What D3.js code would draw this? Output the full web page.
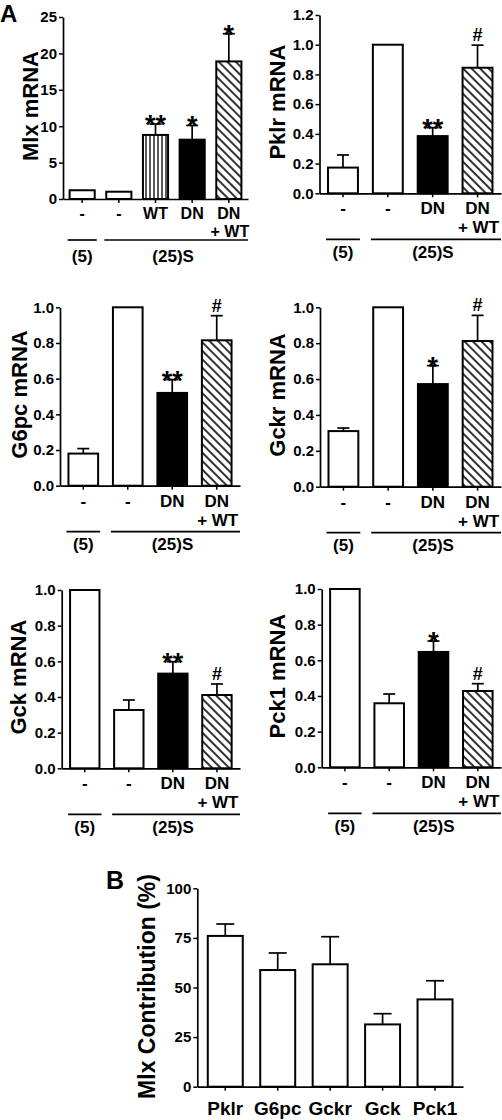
<!DOCTYPE html>
<html><head><meta charset="utf-8">
<script src="https://cdn.jsdelivr.net/npm/d3@7"></script>
<style>
body{margin:0;background:#fff}
text{font-family:"Liberation Sans",Arial,Helvetica,sans-serif;font-weight:bold;fill:#000}
</style>
</head><body>
<svg id="chart" width="502" height="1120"></svg>
<script>
// ---------- data ----------
const groupLabels = ["(5)", "(25)S"];
const mlxCategories = ["-", "-", "WT", "DN", "DN + WT"];
const geneCategories = ["-", "-", "DN", "DN + WT"];

const mlxValues = [1.2, 1.0, 8.8, 8.15, 18.9];
const mlxSem    = [0, 0, 1.5, 1.95, 3.8];
const mlxMarks  = ["", "", "**", "*", "*"];

const pklrValues = [0.173, 1.0, 0.385, 0.845];
const pklrSem    = [0.085, 0, 0.057, 0.152];
const pklrMarks  = ["", "", "**", "#"];

const g6pcValues = [0.18, 1.0, 0.52, 0.815];
const g6pcSem    = [0.028, 0, 0.075, 0.138];
const g6pcMarks  = ["", "", "**", "#"];

const gckrValues = [0.31, 1.0, 0.572, 0.812];
const gckrSem    = [0.017, 0, 0.103, 0.143];
const gckrMarks  = ["", "", "*", "#"];

const gckValues = [1.0, 0.327, 0.531, 0.411];
const gckSem    = [0, 0.056, 0.067, 0.062];
const gckMarks  = ["", "", "**", "#"];

const pck1Values = [1.0, 0.359, 0.647, 0.428];
const pck1Sem    = [0, 0.052, 0.061, 0.041];
const pck1Marks  = ["", "", "*", "#"];

const contribGenes  = ["Pklr", "G6pc", "Gckr", "Gck", "Pck1"];
const contribValues = [76, 58.8, 61.7, 31.4, 44];
const contribSem    = [6, 8.6, 13.9, 5.4, 9.4];

const mlxTicks     = [0, 5, 10, 15, 20, 25];
const pklrTicks    = [0, 0.2, 0.4, 0.6, 0.8, 1.0, 1.2];
const unitTicks    = [0, 0.2, 0.4, 0.6, 0.8, 1.0];
const contribTicks = [0, 25, 50, 75, 100];

// ---------- styles ----------
const svg = d3.select("#chart");
const defs = svg.append("defs");
const vs = defs.append("pattern").attr("id", "vstripe").attr("patternUnits", "userSpaceOnUse")
  .attr("width", 4).attr("height", 4);
vs.append("rect").attr("width", 4).attr("height", 4).attr("fill", "#fff");
vs.append("line").attr("x1", 2).attr("x2", 2).attr("y1", 0).attr("y2", 4).attr("stroke", "#000").attr("stroke-width", 1.3);
const hp = defs.append("pattern").attr("id", "hatch").attr("patternUnits", "userSpaceOnUse")
  .attr("width", 6).attr("height", 6).attr("patternTransform", "rotate(-45)");
hp.append("rect").attr("width", 6).attr("height", 6).attr("fill", "#fff");
hp.append("line").attr("x1", 3).attr("x2", 3).attr("y1", 0).attr("y2", 6).attr("stroke", "#000").attr("stroke-width", 1.6);

const fillFor = {"-": "#fff", "WT": "url(#vstripe)", "DN": "#000", "DN + WT": "url(#hatch)"};

function styleAxis(g, fs) {
  g.selectAll("path.domain").attr("stroke", "#000").attr("stroke-width", 1.7);
  g.selectAll(".tick line").attr("stroke", "#000").attr("stroke-width", 1.5);
  g.selectAll(".tick text").attr("font-size", fs).attr("font-family", "Liberation Sans, Arial, sans-serif")
    .attr("font-weight", "bold").attr("fill", "#000");
}

function drawBars(g, x, y, values, sem, marks, fills, capW) {
  const bw = x.bandwidth();
  values.forEach((v, i) => {
    if (!sem[i]) return;
    const cx = x(i) + bw / 2;
    g.append("line").attr("x1", cx).attr("x2", cx).attr("y1", y(v)).attr("y2", y(v + sem[i]))
      .attr("stroke", "#000").attr("stroke-width", 1.7);
    g.append("line").attr("x1", cx - capW / 2).attr("x2", cx + capW / 2)
      .attr("y1", y(v + sem[i])).attr("y2", y(v + sem[i]))
      .attr("stroke", "#000").attr("stroke-width", 1.7);
  });
  g.selectAll("rect.bar").data(values).join("rect").attr("class", "bar")
    .attr("x", (d, i) => x(i)).attr("width", bw)
    .attr("y", d => y(d)).attr("height", d => y(0) - y(d))
    .attr("fill", (d, i) => fills[i]).attr("stroke", "#000").attr("stroke-width", 2);
  if (marks) {
    values.forEach((v, i) => {
      if (!marks[i]) return;
      const top = y(v + (sem[i] || 0));
      const isStar = marks[i].indexOf("*") >= 0;
      g.append("text").attr("x", x(i) + bw / 2).attr("y", isStar ? top + 10 : top - 4)
        .attr("text-anchor", "middle").attr("font-size", isStar ? 27 : 18).text(marks[i]);
    });
  }
}

function mrnaPanel(p) {
  const g = svg.append("g");
  const n = p.cats.length;
  const x = d3.scaleBand().domain(d3.range(n)).range([p.x0, p.x1])
    .paddingInner(p.pi).paddingOuter(p.po).align(0.5);
  const y = d3.scaleLinear().domain([0, p.max]).range([p.yBot, p.yTop]);
  const ya = g.append("g").attr("transform", `translate(${p.x0},0)`)
    .call(d3.axisLeft(y).tickValues(p.ticks).tickSize(4).tickPadding(2).tickSizeOuter(0)
      .tickFormat(p.fmt));
  styleAxis(ya, 15);
  drawBars(g, x, y, p.values, p.sem, p.marks, p.cats.map(c => fillFor[c]), 12);
  const xa = g.append("g").attr("transform", `translate(0,${p.yBot})`)
    .call(d3.axisBottom(x).tickSize(4).tickSizeOuter(0).tickFormat(""));
  styleAxis(xa, 15);
  p.cats.forEach((c, i) => {
    const cx = x(i) + x.bandwidth() / 2;
    const parts = c.split(" + ");
    g.append("text").attr("x", cx).attr("y", p.yBot + p.off[0]).attr("text-anchor", "middle")
      .attr("font-size", p.fs).text(parts[0]);
    if (parts.length > 1)
      g.append("text").attr("x", cx + 1).attr("y", p.yBot + p.off[1]).attr("text-anchor", "middle")
        .attr("font-size", p.fs).text("+ " + parts[1]);
  });
  const groups = [[0, 0], [1, n - 1]];
  groups.forEach((gr, k) => {
    const xs = x(gr[0]) - 2;
    const xe = k === groups.length - 1 ? p.x1 : x(gr[1]) + x.bandwidth() + 2;
    g.append("line").attr("x1", xs).attr("x2", xe).attr("y1", p.yBot + p.off[2]).attr("y2", p.yBot + p.off[2])
      .attr("stroke", "#000").attr("stroke-width", 1.7);
    g.append("text").attr("x", (xs + xe) / 2 - (k ? 3 : 0)).attr("y", p.yBot + p.off[3])
      .attr("text-anchor", "middle").attr("font-size", 17).text(groupLabels[k]);
  });
  g.append("text").attr("transform", `translate(${p.labX},${(p.yTop + p.yBot) / 2 - 2}) rotate(-90)`)
    .attr("text-anchor", "middle").attr("font-size", 22).text(p.label);
}

const f0 = d3.format("d"), f1 = d3.format(".1f");
const offA = [19.5, 38, 41, 62.5];
const offB = [21, 40, 46, 64.5];

mrnaPanel({label: "Mlx mRNA", cats: mlxCategories, values: mlxValues, sem: mlxSem, marks: mlxMarks, fs: 16,
  x0: 63, x1: 248, yTop: 17, yBot: 199, max: 25, ticks: mlxTicks, fmt: f0, pi: 0.315, po: 0.18, labX: 38, off: offA});
mrnaPanel({label: "Pklr mRNA", cats: geneCategories, values: pklrValues, sem: pklrSem, marks: pklrMarks, fs: 17,
  x0: 319.5, x1: 501, yTop: 15, yBot: 193.3, max: 1.2, ticks: pklrTicks, fmt: f1, pi: 0.333, po: 0.19, labX: 285, off: offB});
mrnaPanel({label: "G6pc mRNA", cats: geneCategories, values: g6pcValues, sem: g6pcSem, marks: g6pcMarks, fs: 17,
  x0: 60, x1: 240, yTop: 307.3, yBot: 485.7, max: 1, ticks: unitTicks, fmt: f1, pi: 0.333, po: 0.19, labX: 27, off: offB});
mrnaPanel({label: "Gckr mRNA", cats: geneCategories, values: gckrValues, sem: gckrSem, marks: gckrMarks, fs: 17,
  x0: 320, x1: 501, yTop: 307.3, yBot: 486.7, max: 1, ticks: unitTicks, fmt: f1, pi: 0.333, po: 0.19, labX: 285, off: offB});
mrnaPanel({label: "Gck mRNA", cats: geneCategories, values: gckValues, sem: gckSem, marks: gckMarks, fs: 17,
  x0: 61.7, x1: 240, yTop: 590, yBot: 768.3, max: 1, ticks: unitTicks, fmt: f1, pi: 0.333, po: 0.19, labX: 26, off: offB});
mrnaPanel({label: "Pck1 mRNA", cats: geneCategories, values: pck1Values, sem: pck1Sem, marks: pck1Marks, fs: 17,
  x0: 321.7, x1: 501, yTop: 589, yBot: 767.3, max: 1, ticks: unitTicks, fmt: f1, pi: 0.333, po: 0.19, labX: 285, off: offB});

// ---------- panel B ----------
(function () {
  const g = svg.append("g");
  const x0 = 197.3, x1 = 463, yTop = 888.3, yBot = 1086.7;
  const x = d3.scaleBand().domain(contribGenes).range([x0, x1]).paddingInner(0.333).paddingOuter(0.2);
  const y = d3.scaleLinear().domain([0, 100]).range([yBot, yTop]);
  const ya = g.append("g").attr("transform", `translate(${x0},0)`)
    .call(d3.axisLeft(y).tickValues(contribTicks).tickSize(4).tickPadding(2).tickSizeOuter(0));
  styleAxis(ya, 15);
  const xi = d3.scaleBand().domain(d3.range(contribGenes.length)).range([x0, x1]).paddingInner(0.333).paddingOuter(0.2);
  drawBars(g, xi, y, contribValues, contribSem, null, contribGenes.map(() => "#fff"), 18);
  const xa = g.append("g").attr("transform", `translate(0,${yBot})`)
    .call(d3.axisBottom(x).tickSize(4).tickSizeOuter(0).tickPadding(11));
  styleAxis(xa, 19);
  g.append("text").attr("transform", `translate(155,${(yTop + yBot) / 2 - 1}) rotate(-90)`)
    .attr("text-anchor", "middle").attr("font-size", 23).text("Mlx Contribution (%)");
})();

svg.append("text").attr("x", 0).attr("y", 22).attr("font-size", 24).text("A");
svg.append("text").attr("x", 106).attr("y", 889).attr("font-size", 25).text("B");
</script>
</body></html>
